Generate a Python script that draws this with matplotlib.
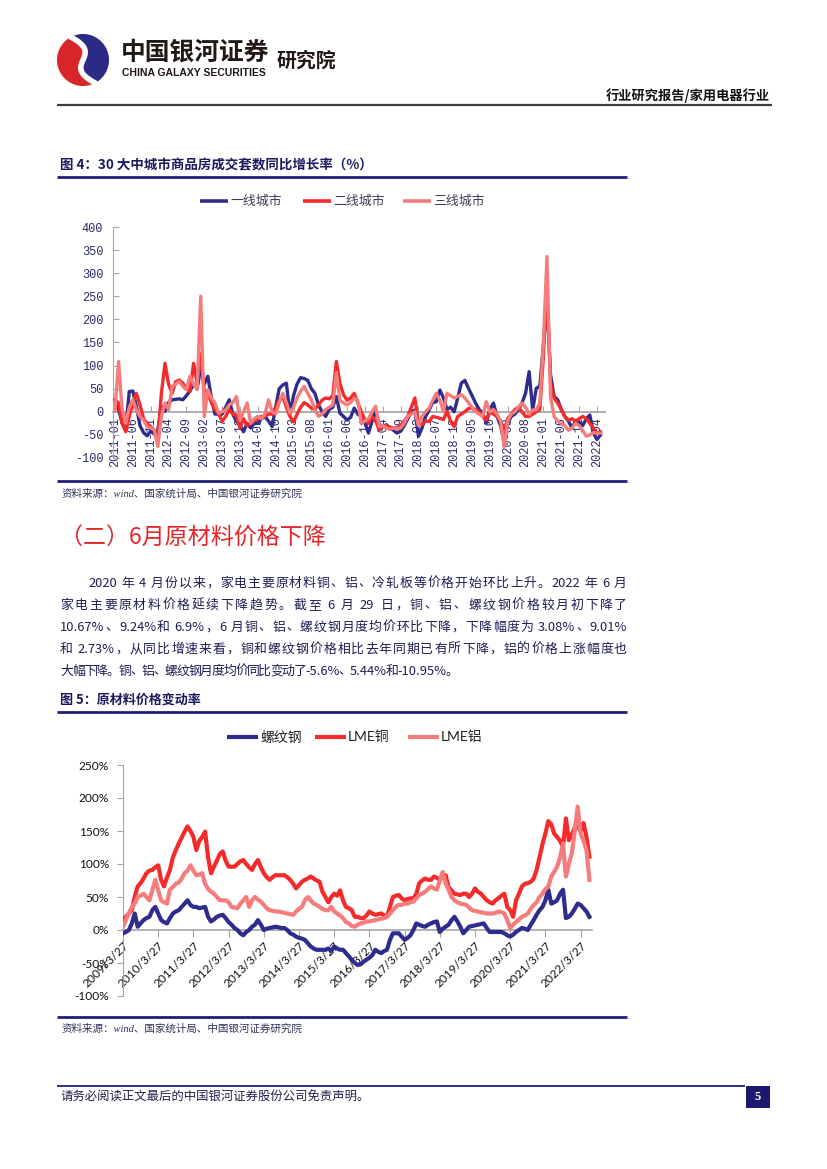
import re
import numpy as np
import matplotlib
matplotlib.use('Agg')
import matplotlib.pyplot as plt
from matplotlib.font_manager import FontProperties
from matplotlib.patches import Polygon, Rectangle
import pandas as pd

CJK = ['Noto Sans CJK SC', 'DejaVu Sans']
plt.rcParams['font.family'] = CJK
plt.rcParams['axes.unicode_minus'] = False

# ---------------- data: chart 1 (30大中城市商品房成交套数同比, %) ----------------
months1 = list(pd.period_range('2011-01', '2022-05', freq='M').strftime('%Y-%m'))
tier1 = [26, 5, -25, -35, 44, 45, 12, -30, -45, -52,
         -42, -48, -40, 12, 1, 20, 26, 27, 28, 26,
         35, 45, 60, 50, 95, 60, 77, 30, -5, -5,
         -5, 10, 26, -5, -20, -30, -43, -25, -35, -25,
         -25, -15, -10, -20, -32, 10, 50, 58, 62, -5,
         35, 60, 74, 72, 68, 50, 40, 15, 0, -10,
         5, 10, 33, -3, -10, -18, -12, 8, -5, -10,
         -24, -46, -20, 4, -32, -32, -28, -35, -40, -46,
         -42, -30, -15, 0, 4, -53, -35, -10, 4, 20,
         22, 47, 30, 5, 10, 0, 30, 62, 68, 51,
         35, 19, 5, -3, -24, 5, 19, -10, -30, -65,
         -25, -10, -5, 5, 19, 40, 87, 4, 51, 55,
         145, 240, 80, 33, 26, 5, -10, -20, -35, -20,
         -22, -30, -15, -7, -46, -60, -50]
tier2 = [26, 19, -25, -43, -10, 20, 40, 15, -15, -25,
         -32, -40, -55, 40, 105, 60, 40, 65, 69, 62,
         50, 44, 105, 62, 127, 44, 40, 20, 5, -3,
         -21, -10, 5, -5, -7, -35, -15, -30, -25, -20,
         -15, -10, -10, -5, -5, 10, 25, 33, 10, -10,
         -22, -5, 10, 20, 15, 8, 5, 15, 25, 30,
         28, 35, 109, 62, 37, 25, 30, 40, 20, 0,
         -18, -25, -10, -20, -39, -32, -30, -33, -35, -35,
         -30, -20, -10, 10, 30, -25, -28, -20, -21, -10,
         -12, -14, -17, 1, -20, -32, -10, -5, 0, 7,
         8, 5, 0, -10, -18, 0, -5, -10, -20, -43,
         -15, -5, 5, 10, 0, -10, -10, -5, 0, 5,
         120, 270, 62, 30, 19, 5, -10, -18, -15, -20,
         -15, -10, -15, -25, -35, -46, -43]
tier3 = [4, 109, 4, -25, 10, 26, 4, -10, -18, -32,
         -35, -39, -75, -10, 19, 4, 55, 60, 66, 55,
         48, 77, 60, 48, 250, -10, 48, 30, 19, -3,
         0, 4, 15, 20, 33, -18, 0, 19, -25, -15,
         -10, -15, -5, 26, 0, -5, 20, 40, 20, -3,
         10, 30, 45, 55, 40, 26, 5, -10, -5, 5,
         10, 15, 85, 25, 19, 15, 20, 30, 25, -25,
         -20, -15, 0, 12, -32, -30, -35, -38, -35, -38,
         -35, -25, -10, -5, 0, -30, -10, 0, 8, 25,
         40, 25, 0, 40, 35, 30, 33, 37, 30, 20,
         10, 0, -5, -10, 22, 0, 5, -5, -20, -76,
         -20, -5, 0, 10, 19, 10, -5, 4, 4, 19,
         150, 336, 33, -10, -20, -25, -30, -40, -35, -25,
         -30, -40, -53, -50, -45, -46, -46]
legend1 = ['一线城市', '二线城市', '三线城市']
yticks1 = [-100, -50, 0, 50, 100, 150, 200, 250, 300, 350, 400]

# ---------------- data: chart 2 (原材料价格变动率, %) ----------------
months2 = list(pd.period_range('2009-03', '2022-06', freq='M').strftime('%Y-%m'))
steel = [-5, -3, 0, 10, 25, 5, 10, 15, 18, 20,
         30, 35, 25, 15, 12, 10, 18, 25, 28, 30,
         35, 40, 45, 38, 35, 35, 33, 34, 35, 20,
         13, 16, 20, 22, 23, 18, 12, 8, 3, 0,
         -5, -8, -3, 0, 5, 8, 15, 8, 0, 2,
         3, 4, 5, 4, 3, 3, 0, -5, -7, -10,
         -12, -13, -15, -20, -25, -28, -30, -30, -30, -30,
         -28, -32, -25, -28, -30, -30, -35, -40, -45, -50,
         -53, -52, -48, -45, -42, -38, -30, -33, -35, -32,
         -30, -15, -5, -5, -5, -10, -15, -12, -8, 0,
         10, 8, 6, 5, 8, 10, 12, 13, -3, 2,
         5, 8, 15, 20, 13, 5, -5, 0, 5, 6,
         7, 8, 9, 10, 3, -3, -3, -3, -3, -3,
         -5, -8, -10, -7, -3, 0, 3, 2, 0, 8,
         15, 23, 30, 35, 45, 61, 40, 42, 45, 55,
         61, 18, 20, 25, 32, 40, 38, 33, 28, 20]
copper = [15, 20, 25, 30, 50, 66, 71, 78, 86, 90,
          91, 95, 98, 76, 66, 80, 91, 110, 121, 131,
          140, 149, 157, 150, 141, 121, 135, 141, 149, 110,
          86, 96, 105, 115, 119, 105, 96, 96, 96, 100,
          104, 106, 100, 95, 91, 100, 106, 95, 86, 80,
          76, 80, 83, 83, 83, 83, 80, 76, 70, 63,
          68, 73, 76, 78, 81, 78, 75, 73, 58, 50,
          42, 50, 55, 52, 60, 45, 35, 33, 30, 20,
          20, 18, 18, 22, 28, 25, 23, 24, 25, 22,
          20, 35, 50, 52, 53, 48, 45, 47, 48, 48,
          55, 71, 75, 78, 76, 76, 81, 79, 76, 80,
          83, 65, 60, 55, 54, 53, 55, 55, 50, 55,
          63, 58, 55, 50, 45, 42, 40, 45, 48, 52,
          55, 35, 30, 20, 45, 55, 66, 70, 71, 73,
          78, 91, 110, 130, 146, 165, 160, 146, 141, 135,
          126, 169, 136, 145, 155, 157, 150, 162, 141, 111]
aluminum = [5, 15, 25, 35, 40, 50, 52, 55, 50, 45,
            60, 76, 60, 45, 42, 40, 61, 65, 70, 72,
            78, 86, 90, 98, 90, 83, 84, 86, 70, 62,
            58, 55, 50, 45, 45, 45, 42, 35, 34, 33,
            40, 45, 50, 35, 45, 50, 46, 43, 38, 33,
            30, 29, 28, 28, 27, 26, 25, 24, 23, 28,
            32, 35, 45, 50, 45, 40, 38, 35, 32, 30,
            30, 35, 28, 25, 22, 18, 12, 10, 6, 5,
            8, 10, 11, 13, 13, 14, 15, 16, 17, 18,
            20, 25, 30, 35, 38, 38, 40, 40, 42, 43,
            48, 53, 55, 58, 62, 66, 63, 61, 75, 88,
            70, 61, 50, 45, 42, 40, 39, 38, 34, 30,
            29, 28, 27, 26, 25, 25, 25, 26, 28, 27,
            25, 15, 3, 8, 12, 16, 20, 22, 25, 32,
            38, 42, 50, 55, 62, 66, 81, 88, 96, 110,
            131, 81, 100, 116, 150, 187, 146, 135, 121, 76]
legend2 = ['螺纹钢', 'LME铜', 'LME铝']
xticklabels2 = ['2009/3/27', '2010/3/27', '2011/3/27', '2012/3/27', '2013/3/27',
                '2014/3/27', '2015/3/27', '2016/3/27', '2017/3/27', '2018/3/27',
                '2019/3/27', '2020/3/27', '2021/3/27', '2022/3/27']
yticks2 = [-100, -50, 0, 50, 100, 150, 200, 250]

para = ["2020 年 4 月份以来，家电主要原材料铜、铝、冷轧板等价格开始环比上升。2022 年 6 月",
        "家电主要原材料价格延续下降趋势。截至 6 月 29 日，铜、铝、螺纹钢价格较月初下降了",
        "10.67%、9.24%和 6.9%，6 月铜、铝、螺纹钢月度均价环比下降，下降幅度为 3.08%、9.01%",
        "和 2.73%，从同比增速来看，铜和螺纹钢价格相比去年同期已有所下降，铝的价格上涨幅度也",
        "大幅下降。铜、铝、螺纹钢月度均价同比变动了-5.6%、5.44%和-10.95%。"]

# ---------------- styles ----------------
NAVY = '#2E2C8C'
RED = '#F52A2A'
PINK = '#F67C7C'
RULE = '#1F1F78'
TXT = '#1E1E55'
GRAY = '#A6A6A6'
W, H = 827, 1169

fig = plt.figure(figsize=(W / 100, H / 100), dpi=100)
page = fig.add_axes([0, 0, 1, 1])
page.set_xlim(0, W)
page.set_ylim(H, 0)
page.axis('off')
renderer = fig.canvas.get_renderer()


def hline(y, x0, x1, color, lw):
    page.plot([x0, x1], [y, y], color=color, lw=lw, solid_capstyle='butt')


def rect(x0, y0, x1, y1):
    return [x0 / W, 1 - y1 / H, (x1 - x0) / W, (y1 - y0) / H]


def text_w(s, fp):
    return renderer.get_text_width_height_descent(s, fp, ismath=False)[0]


def justified(s, x0, x1, yb, fp, color):
    toks = re.findall(r'[A-Za-z0-9.%\-]+|\s|.', s)
    ref = text_w('x', fp)
    pos = []
    acc = ''
    for t in toks:
        pos.append(text_w(acc + 'x', fp) - ref)
        acc += t
    total = text_w(acc + 'x', fp) - ref
    extra = (x1 - x0 - total) / (len(toks) - 1)
    for i, t in enumerate(toks):
        if t.isspace():
            continue
        page.text(x0 + pos[i] + i * extra, yb, t, fontproperties=fp,
                  color=color, va='baseline', ha='left')


# ---------------- header / logo ----------------
cx, cy, r = 83, 60, 26


def circ_pts(a0, a1, n=80):
    a = np.radians(np.linspace(a0, a1, n))
    return np.column_stack([cx + r * np.cos(a), cy - r * np.sin(a)])


p0 = circ_pts(118, 118, 1)[0]
p3 = circ_pts(298, 298, 1)[0]
tt = np.linspace(0, 1, 50)[:, None]
p1 = np.array([cx + 24, cy - 4])
p2 = np.array([cx - 24, cy + 4])
bez = (1 - tt) ** 3 * p0 + 3 * (1 - tt) ** 2 * tt * p1 + 3 * (1 - tt) * tt ** 2 * p2 + tt ** 3 * p3
page.add_patch(Polygon(np.vstack([circ_pts(118, 298), bez[::-1]]), closed=True,
                       fc='#D8262B', ec='none'))
page.add_patch(Polygon(np.vstack([circ_pts(298, 478), bez]), closed=True,
                       fc='#2B2A86', ec='none'))
page.plot(bez[:, 0], bez[:, 1], color='white', lw=4, solid_capstyle='round')

page.text(121, 53, '中国银河证券', fontsize=17.8, fontweight='bold', color='#231815',
          va='center', ha='left')
page.text(122, 73, 'CHINA GALAXY SECURITIES', fontsize=7.5, fontweight='bold',
          family=['Liberation Sans', 'DejaVu Sans'], color='#231815', va='center', ha='left')
page.text(277, 60, '研究院', fontsize=14.3, fontweight='bold', color='#231815',
          va='center', ha='left')
page.text(770, 96, '行业研究报告/家用电器行业', fontsize=9.5, fontweight='bold',
          color='#111111', va='center', ha='right')
hline(105, 57, 772, '#3C3C3C', 1.6)

# ---------------- figure 4 ----------------
page.text(60, 165, '图 4：30 大中城市商品房成交套数同比增长率（%）', fontsize=9.7,
          fontweight='bold', color='#1A1A60', va='center', ha='left')
hline(177, 57, 627, RULE, 2.0)

for (x0, lab, col) in [(200, legend1[0], NAVY), (303, legend1[1], RED), (403, legend1[2], PINK)]:
    page.plot([x0, x0 + 28], [201, 201], color=col, lw=2.6, solid_capstyle='butt')
    page.text(x0 + 30, 201, lab, fontsize=9.3, color='#3C3C5A', va='center', ha='left')

ax1 = fig.add_axes(rect(113, 227, 605, 458))
ax1.patch.set_alpha(0)
x1 = np.arange(len(months1))
ax1.plot(x1, tier1, color=NAVY, lw=2.4, zorder=3)
ax1.plot(x1, tier2, color=RED, lw=2.4, zorder=4)
ax1.plot(x1, tier3, color=PINK, lw=2.4, zorder=5)
ax1.set_xlim((113 - 115) / 3.57, (605 - 115) / 3.57)
ax1.set_ylim(-100, 400)
for s in ['top', 'right']:
    ax1.spines[s].set_visible(False)
ax1.spines['left'].set_color(GRAY)
ax1.spines['bottom'].set_color(GRAY)
ax1.spines['bottom'].set_position(('data', 0))
ax1.spines['bottom'].set_linewidth(1.3)
ax1.set_yticks(yticks1)
ax1.set_yticklabels([str(v) for v in yticks1])
ax1.set_xticks(x1[::5])
ax1.set_xticklabels(months1[::5])
ax1.tick_params(axis='y', direction='in', length=4, color=GRAY, pad=7,
                labelsize=8.6, labelcolor='#2B2B6E')
ax1.tick_params(axis='x', direction='in', length=4, color=GRAY, pad=4,
                labelsize=8.6, labelcolor='#2B2B6E', labelrotation=90)
for lbl in ax1.get_xticklabels() + ax1.get_yticklabels():
    lbl.set_fontfamily('Liberation Mono')

hline(481, 57, 627, RULE, 2.0)
src_fp = dict(fontsize=7.6, style='italic', color='#33335F',
              family=['Liberation Serif', 'Noto Sans CJK SC'], va='center', ha='left')
page.text(62, 494, '资料来源：wind、国家统计局、中国银河证券研究院', **src_fp)

# ---------------- section text ----------------
page.text(60, 537, '（二）6月原材料价格下降', fontsize=16.6, color='#E4252A',
          va='center', ha='left')
pfp = FontProperties(family=CJK, size=9.3)
line_y = [582, 604, 626, 648, 670]
spans = [(88, 627), (60, 627), (60, 627), (60, 627), (60, 458)]
for s, yc, (xa, xb) in zip(para, line_y, spans):
    justified(s, xa, xb, yc + 4.6, pfp, TXT)

# ---------------- figure 5 ----------------
page.text(60, 700, '图 5：原材料价格变动率', fontsize=9.4, fontweight='bold',
          color='#1A1A60', va='center', ha='left')
hline(712, 57, 627, RULE, 2.0)

for (x0, lab, col) in [(227, legend2[0], NAVY), (315, legend2[1], RED), (408, legend2[2], PINK)]:
    page.plot([x0, x0 + 31], [737, 737], color=col, lw=3.0, solid_capstyle='butt')
    page.text(x0 + 33, 737, lab, fontsize=10, color='#222222',
              family=['Lato', 'Noto Sans CJK SC'], va='center', ha='left')

ax2 = fig.add_axes(rect(123, 765, 592, 996))
ax2.patch.set_alpha(0)
x2 = np.arange(len(months2))
ax2.plot(x2, steel, color=NAVY, lw=3.0, zorder=3)
ax2.plot(x2, copper, color=RED, lw=3.0, zorder=4)
ax2.plot(x2, aluminum, color=PINK, lw=3.0, zorder=5)
ax2.set_xlim(0, (592 - 123) / (35.2 / 12))
ax2.set_ylim(-100, 250)
for s in ['top', 'right']:
    ax2.spines[s].set_visible(False)
ax2.spines['left'].set_color(GRAY)
ax2.spines['bottom'].set_color(GRAY)
ax2.spines['bottom'].set_position(('data', 0))
ax2.spines['bottom'].set_linewidth(1.2)
ax2.set_yticks(yticks2)
ax2.set_yticklabels([f'{v}%' for v in yticks2], fontfamily='Lato')
ax2.set_xticks(np.arange(0, 12 * len(xticklabels2), 12))
ax2.set_xticklabels(xticklabels2, rotation=45, ha='right', va='top',
                    rotation_mode='anchor', fontfamily='Lato')
ax2.tick_params(axis='y', direction='out', length=4, color=GRAY, pad=6,
                labelsize=8.6, labelcolor='#111111')
ax2.tick_params(axis='x', direction='out', length=5, color=GRAY, pad=2,
                labelsize=8.6, labelcolor='#111111')

hline(1017, 57, 627, RULE, 2.0)
page.text(62, 1029, '资料来源：wind、国家统计局、中国银河证券研究院', **src_fp)

# ---------------- footer ----------------
hline(1086, 57, 745, RULE, 1.3)
page.text(60, 1097, '请务必阅读正文最后的中国银河证券股份公司免责声明。', fontsize=8.9,
          color='#20204F', va='center', ha='left')
page.add_patch(Rectangle((746, 1086), 24, 22, fc='#1C1A6E', ec='none'))
page.text(758, 1097, '5', fontsize=9, fontweight='bold', color='white',
          family=['Liberation Serif', 'DejaVu Serif'], va='center', ha='center')

fig.savefig('out.png', dpi=100)
